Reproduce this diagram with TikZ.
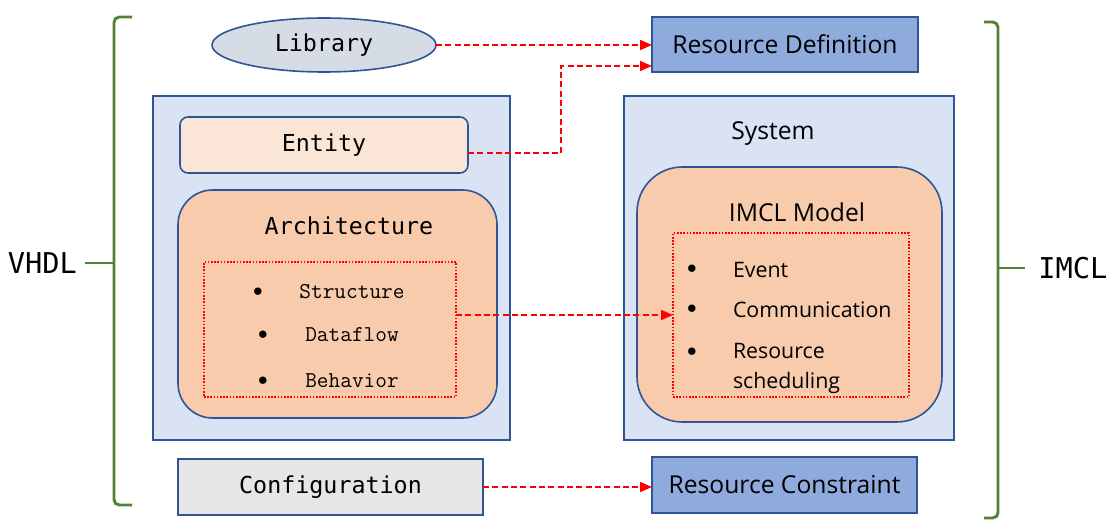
\documentclass[tikz,border=0pt]{standalone}
\usepackage{
    fontspec,
    xcolor}
\setmainfont{Open Sans}
\newfontfamily\termfont{DejaVu Sans Mono}
\newfontfamily\codefont{Latin Modern Mono}
\usetikzlibrary{arrows.meta}
\usetikzlibrary{shapes.geometric}
\definecolor{edgeblue}{RGB}{47,85,151}
\definecolor{paleblue}{RGB}{218,227,243}
\definecolor{resblue}{RGB}{143,170,220}
\definecolor{libgray}{RGB}{214,220,229}
\definecolor{cfggray}{RGB}{231,230,230}
\definecolor{lightpeach}{RGB}{251,229,214}
\definecolor{peach}{RGB}{248,203,173}
\definecolor{bracegreen}{RGB}{83,129,53}

\begin{document}
\begin{tikzpicture}[x=0.75pt,y=-0.75pt]
\tikzset{every node/.style={inner sep=0pt,outer sep=0pt}}
\tikzset{blk/.style={draw=edgeblue,line width=1.2pt}}
\tikzset{flow/.style={draw=red,line width=1.3pt,dash pattern=on 4.5pt off 2.5pt,-{Triangle[length=9pt,width=7.5pt]}}}
\tikzset{dotbox/.style={draw=red,line width=1.2pt,dash pattern=on 1.2pt off 1.2pt}}
\tikzset{brace/.style={draw=bracegreen,line width=2.2pt,rounded corners=4pt}}
\tikzset{term/.style={font=\termfont\fontsize{17.5}{20}\selectfont}}
\tikzset{code/.style={font=\codefont\fontsize{17}{20}\selectfont}}
\tikzset{bul/.style={font=\fontsize{15}{18}\selectfont}}
\tikzset{item/.style={font=\fontsize{16}{22.5}\selectfont,anchor=west,align=left}}
\useasboundingbox (0,0) rectangle (1109,524);
% left side
\node[blk,ellipse,fill=libgray,minimum width=168pt,minimum height=40.5pt,term] (library) at (324,45) {Library};
\node[blk,fill=paleblue,minimum width=267.75pt,minimum height=258pt] (vhdlbox) at (331.5,268) {};
\node[blk,fill=lightpeach,rounded corners=6pt,minimum width=216pt,minimum height=42pt,term] (entity) at (324,145) {Entity};
\node[blk,fill=peach,rounded corners=26pt,minimum width=239.25pt,minimum height=171pt] (arch) at (337.5,304) {};
\node[term] (archtitle) at (349,226) {Architecture};
\node[dotbox,minimum width=189pt,minimum height=101.25pt] (archlist) at (330,329.5) {};
\foreach \y/\t/\b in {292/Structure/258,335/Dataflow/263,381/Behavior/263}{
  \node[bul] (dot\t) at (\b,\y) {$\bullet$};
  \node[code] (\t) at (352,\y) {\t};
}
\node[blk,fill=cfggray,minimum width=228.75pt,minimum height=42pt,term] (config) at (330.5,487) {Configuration};
% right side
\node[blk,fill=resblue,minimum width=199.5pt,minimum height=41.25pt,font=\fontsize{18.5}{22}\selectfont] (resdef) at (785,44.5) {Resource Definition};
\node[blk,fill=paleblue,minimum width=247.5pt,minimum height=258pt] (sysbox) at (789,268) {};
\node[font=\fontsize{18.5}{22}\selectfont] (system) at (773,134) {System};
\node[blk,fill=peach,rounded corners=34pt,minimum width=228.75pt,minimum height=191.25pt] (model) at (789.5,294.5) {};
\node[font=\fontsize{18.5}{22}\selectfont] (modeltitle) at (797,212) {IMCL Model};
\node[dotbox,minimum width=177pt,minimum height=123pt] (modellist) at (791,315) {};
\foreach \y/\n in {269/ev,309/com,352/rs}{
  \node[bul] (dot\n) at (692,\y) {$\bullet$};
}
\node[item] (event) at (733,270) {Event};
\node[item] (comm) at (733,310) {Communication};
\node[item,anchor=north west] (sched) at (733,343) {Resource\\scheduling};
\node[blk,fill=resblue,minimum width=198.75pt,minimum height=42pt,font=\fontsize{18.5}{22}\selectfont] (rescon) at (784.5,485) {Resource Constraint};
% braces
\node[term,font=\termfont\fontsize{21.5}{24}\selectfont,anchor=east,inner xsep=6pt] (vhdl) at (85,263) {VHDL};
\node[term,font=\termfont\fontsize{21.5}{24}\selectfont,anchor=west,inner xsep=10pt] (imcl) at (1025,268) {IMCL};
\coordinate (lmid) at (114,263);
\coordinate (rmid) at (998,268);
\draw[brace] (132,17) -- (114,17) -- (114,505) -- (132,505);
\draw[brace] (984,22) -- (998,22) -- (998,518) -- (984,518);
\draw[brace] (lmid) -- (vhdl.east);
\draw[brace] (rmid) -- (imcl.west);
% connectors
\draw[flow] (library.east) -- (library.east -| resdef.west);
\draw[flow] ([yshift=-6pt]entity.east) -- ++(93,0) |- ([yshift=4.5pt]resdef.south west);
\draw[flow] (archlist.east |- modellist.west) -- (modellist.west);
\draw[flow] (config.east) -- (config.east -| rescon.west);
\end{tikzpicture}
\end{document}
